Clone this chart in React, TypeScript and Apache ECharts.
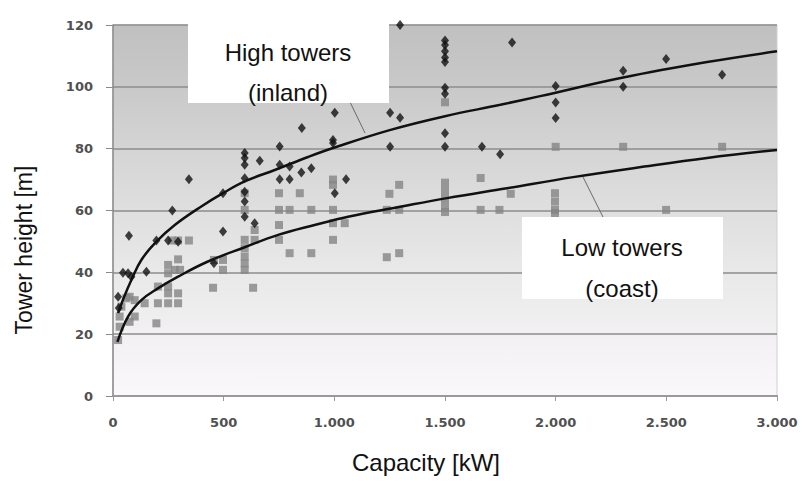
import React, { useEffect, useRef } from "react";
import * as echarts from "echarts";

// Tick labels
const xTicks = [0, 500, 1000, 1500, 2000, 2500, 3000];
const yTicks = [0, 20, 40, 60, 80, 100, 120];

// High towers (inland) – diamonds [kW, m]
const highCap = [23, 26, 45, 68, 83, 72, 151, 196, 249, 294, 268, 343, 456, 497, 497,
  595, 595, 595, 595, 595, 595, 595, 640, 663,
  753, 753, 798, 851, 896, 753, 798, 853,
  994, 994, 1002, 1002, 1053,
  1252, 1297, 1252, 1297,
  1500, 1500, 1500, 1500, 1500, 1500, 1500, 1500, 1500,
  1667, 1749, 1803, 2000, 2000, 2000, 2305, 2305, 2499, 2752];
const highHeight = [32.1, 28.5, 39.9, 39.7, 38.6, 51.8, 40.2, 50.3, 50.3, 49.9, 60, 70.1, 42.9, 65.6, 53.2,
  78.6, 77, 74.8, 70.4, 66.1, 62.9, 58, 55.9, 76.1,
  80.7, 74.8, 74.2, 72.3, 73.7, 70.1, 70.1, 86.7,
  82.8, 81.8, 91.6, 65.6, 70.1,
  91.6, 90, 80.6, 120,
  115, 113.5, 111.5, 109.5, 108, 99.7, 97.8, 85, 80.6,
  80.6, 78.2, 114.3, 100.3, 94.9, 89.9, 105.2, 100, 109, 103.9];

// Low towers (coast) – squares [kW, m]
const lowCap = [23, 30, 30, 38, 60, 75, 75, 98, 98, 143, 196, 203, 249, 249, 294, 294, 249, 203,
  249, 249, 280, 303, 294, 267, 294, 343,
  452, 456, 497, 497,
  595, 595, 595, 595, 595, 595, 595, 633, 640, 640,
  750, 844, 750, 798, 896, 994, 750, 750, 798, 896,
  994, 994, 994, 1047, 994,
  1249, 1293, 1237, 1293, 1237, 1293,
  1500, 1500, 1500, 1500, 1500, 1500,
  1661, 1661, 1746, 1797, 1997, 1997, 1997, 1997, 2000, 2305, 2752, 2499];
const lowHeight = [18.1, 22.4, 25.7, 28.9, 31.6, 32.1, 24, 25.7, 31, 30, 23.5, 35.4, 35.4, 33.2, 33.2, 30, 30, 30,
  42.4, 39.7, 40.8, 40.8, 44.2, 50.3, 50.3, 50.3,
  35, 44, 44, 40.8,
  65.6, 60.2, 50.5, 47.8, 45.1, 42.9, 40.8, 35, 53.7, 50.5,
  65.6, 65.6, 60.2, 60.2, 60.2, 60.2, 55.3, 50.5, 46.2, 46.2,
  70, 68.3, 55.9, 55.9, 50.5,
  65.4, 68.3, 60.2, 60.2, 44.9, 46.2,
  69, 66.5, 64, 61.5, 59.5, 95,
  70.5, 60.2, 60.2, 65.4, 65.6, 62.9, 60.2, 59.2, 80.6, 80.6, 80.6, 60.2];

// Trend curves
const highFitCap = [23, 50, 83, 128, 196, 279, 399, 497, 595, 731, 881, 994, 1250, 1500, 1750, 1930, 2305, 2684, 3000];
const highFitHeight = [26.8, 32, 37.5, 44, 49.9, 55.3, 61.3, 65.6, 69.4, 73.1, 77.3, 80.2, 86, 90.5, 94.2, 97, 103, 108, 111.5];
const lowFitCap = [20, 68, 128, 203, 294, 429, 595, 746, 911, 1062, 1297, 1509, 1780, 2079, 2400, 2684, 3000];
const lowFitHeight = [17.5, 25.7, 31, 34.8, 38.6, 43.5, 48.1, 52.1, 55.3, 58, 61.2, 64, 67.2, 70.8, 74.2, 77, 79.6];

const zip = (a: number[], b: number[]) => a.map((v, i) => [v, b[i]]);

const FONT = "'Liberation Sans', Arial, sans-serif";
const TICKFONT = "'DejaVu Sans', Verdana, sans-serif";

export default function App() {
  const ref = useRef<HTMLDivElement>(null);
  useEffect(() => {
    if (!ref.current) return;
    const chart = echarts.init(ref.current, undefined, { renderer: "svg" });
    chart.setOption({
      animation: false,
      backgroundColor: "#ffffff",
      grid: {
        left: 113,
        right: 25,
        top: 25,
        bottom: 85,
        show: true,
        borderColor: "#d0d0d0",
        borderWidth: 1,
        backgroundColor: new echarts.graphic.LinearGradient(0, 0, 0, 1, [
          { offset: 0, color: "#c0c0c0" },
          { offset: 0.17, color: "#c9c9c9" },
          { offset: 0.33, color: "#d4d4d4" },
          { offset: 0.5, color: "#dfdfdf" },
          { offset: 0.67, color: "#e9e9e9" },
          { offset: 0.83, color: "#f2f0f2" },
          { offset: 1, color: "#faf8fa" },
        ]),
      },
      xAxis: {
        type: "value",
        min: xTicks[0],
        max: xTicks[xTicks.length - 1],
        interval: 500,
        axisLine: { show: true, lineStyle: { color: "#9a9a9a", width: 2 } },
        axisTick: { show: true, length: 5, lineStyle: { color: "#9a9a9a" } },
        splitLine: { show: false },
        axisLabel: {
          margin: 20,
          color: "#505050",
          fontWeight: "bold",
          fontSize: 13,
          fontFamily: TICKFONT,
          formatter: (v: number) => (v >= 1000 ? `${Math.floor(v / 1000)}.${String(v % 1000).padStart(3, "0")}` : `${v}`),
        },
      },
      yAxis: {
        type: "value",
        min: yTicks[0],
        max: yTicks[yTicks.length - 1],
        interval: 20,
        axisLine: { show: true, lineStyle: { color: "#8a8a8a", width: 1.5 } },
        axisTick: { show: true, length: 7, lineStyle: { color: "#8a8a8a" } },
        splitLine: { show: true, lineStyle: { color: "#8c8c8c", width: 1.5 } },
        axisLabel: {
          margin: 20,
          color: "#505050",
          fontWeight: "bold",
          fontSize: 13,
          fontFamily: TICKFONT,
        },
      },
      series: [
        {
          type: "scatter",
          name: "Low towers (coast)",
          data: zip(lowCap, lowHeight),
          symbol: "rect",
          symbolSize: 8,
          itemStyle: { color: "#858585" },
          z: 2,
        },
        {
          type: "scatter",
          name: "High towers (inland)",
          data: zip(highCap, highHeight),
          symbol: "diamond",
          symbolSize: [8, 10],
          itemStyle: { color: "#111111" },
          z: 3,
        },
        {
          type: "line",
          data: zip(highFitCap, highFitHeight),
          smooth: 0.4,
          showSymbol: false,
          lineStyle: { color: "#111111", width: 2.5 },
          z: 4,
        },
        {
          type: "line",
          data: zip(lowFitCap, lowFitHeight),
          smooth: 0.4,
          showSymbol: false,
          lineStyle: { color: "#111111", width: 2.5 },
          z: 4,
        },
      ],
      graphic: [
        { type: "line", z: 90, shape: { x1: 350, y1: 102, x2: 365, y2: 133 }, style: { stroke: "#6a6a6a", lineWidth: 1 } },
        { type: "line", z: 90, shape: { x1: 583, y1: 177, x2: 603, y2: 217 }, style: { stroke: "#6a6a6a", lineWidth: 1 } },
        { type: "rect", z: 100, shape: { x: 188, y: 23, width: 201, height: 80 }, style: { fill: "#ffffff" } },
        { type: "text", z: 101, x: 288, y: 52, style: { text: "High towers", font: `24px ${FONT}`, fill: "#111", textAlign: "center", textVerticalAlign: "middle" } },
        { type: "text", z: 101, x: 288, y: 92, style: { text: "(inland)", font: `24px ${FONT}`, fill: "#111", textAlign: "center", textVerticalAlign: "middle" } },
        { type: "rect", z: 100, shape: { x: 522, y: 217, width: 201, height: 82 }, style: { fill: "#ffffff" } },
        { type: "text", z: 101, x: 622, y: 247, style: { text: "Low towers", font: `24px ${FONT}`, fill: "#111", textAlign: "center", textVerticalAlign: "middle" } },
        { type: "text", z: 101, x: 622, y: 288, style: { text: "(coast)", font: `24px ${FONT}`, fill: "#111", textAlign: "center", textVerticalAlign: "middle" } },
        { type: "text", z: 101, x: 24, y: 250, rotation: Math.PI / 2, style: { text: "Tower height [m]", font: `23px ${FONT}`, fill: "#111", textAlign: "center", textVerticalAlign: "middle" } },
        { type: "text", z: 101, x: 426, y: 462, style: { text: "Capacity [kW]", font: `24px ${FONT}`, fill: "#111", textAlign: "center", textVerticalAlign: "middle" } },
      ],
    });
    return () => chart.dispose();
  }, []);
  return <div ref={ref} style={{ width: 802, height: 481, position: "absolute", left: 0, top: 0 }} />;
}
